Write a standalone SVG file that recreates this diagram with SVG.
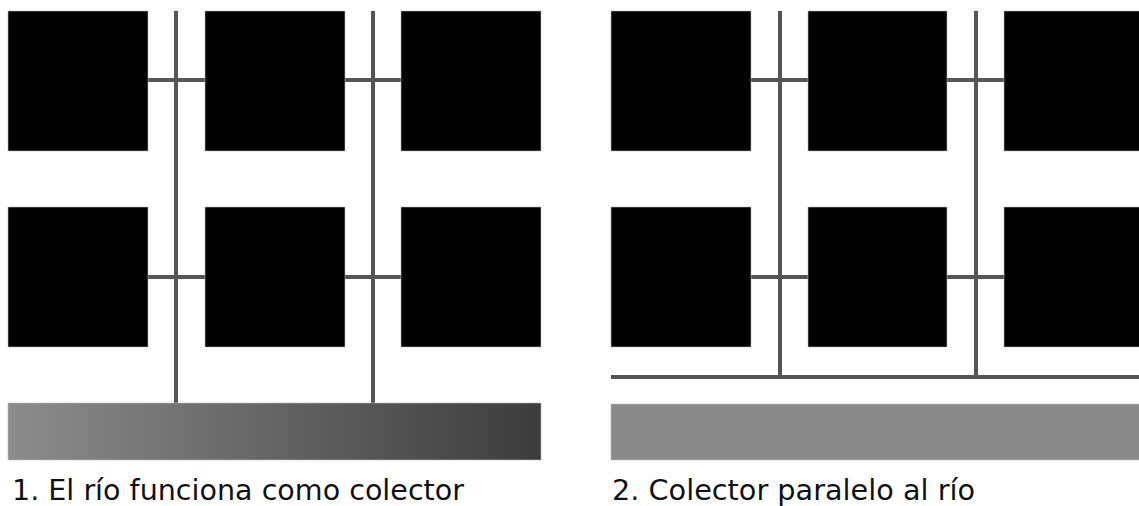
<svg xmlns="http://www.w3.org/2000/svg" width="1139" height="506" viewBox="0 0 1139 506">
<defs>
<linearGradient id="riverGrad" x1="0" y1="0" x2="1" y2="0">
<stop offset="0" stop-color="#8c8c8c"/>
<stop offset="1" stop-color="#3c3c3c"/>
</linearGradient>
<style>
.blk{fill:#000;stroke:#bbb;stroke-width:0.6}
.pipe{stroke:#555;stroke-width:4;fill:none}
.lbl{font-family:"DejaVu Sans","Liberation Sans",sans-serif;font-size:28px;fill:#111}
</style>
</defs>
<rect width="1139" height="506" fill="#fff"/>
<g id="connectors">
<line class="pipe" x1="176" y1="11" x2="176" y2="404"/>
<line class="pipe" x1="373" y1="11" x2="373" y2="404"/>
<line class="pipe" x1="148" y1="80" x2="205" y2="80"/>
<line class="pipe" x1="345" y1="80" x2="401" y2="80"/>
<line class="pipe" x1="148" y1="277" x2="205" y2="277"/>
<line class="pipe" x1="345" y1="277" x2="401" y2="277"/>
<line class="pipe" x1="780" y1="11" x2="780" y2="377"/>
<line class="pipe" x1="976" y1="11" x2="976" y2="377"/>
<line class="pipe" x1="611" y1="377" x2="1139" y2="377"/>
<line class="pipe" x1="751" y1="80" x2="808" y2="80"/>
<line class="pipe" x1="947" y1="80" x2="1004" y2="80"/>
<line class="pipe" x1="751" y1="277" x2="808" y2="277"/>
<line class="pipe" x1="947" y1="277" x2="1004" y2="277"/>
</g>
<g id="l-b1"><rect class="blk" x="8" y="11" width="140" height="140"/></g>
<g id="l-b2"><rect class="blk" x="205" y="11" width="140" height="140"/></g>
<g id="l-b3"><rect class="blk" x="401" y="11" width="140" height="140"/></g>
<g id="l-b4"><rect class="blk" x="8" y="207" width="140" height="140"/></g>
<g id="l-b5"><rect class="blk" x="205" y="207" width="140" height="140"/></g>
<g id="l-b6"><rect class="blk" x="401" y="207" width="140" height="140"/></g>
<g id="l-river"><rect x="8" y="403" width="533" height="57" fill="url(#riverGrad)" stroke="#bbb" stroke-width="0.6"/></g>
<g id="r-b1"><rect class="blk" x="611" y="11" width="140" height="140"/></g>
<g id="r-b2"><rect class="blk" x="808" y="11" width="139" height="140"/></g>
<g id="r-b3"><rect class="blk" x="1004" y="11" width="140" height="140"/></g>
<g id="r-b4"><rect class="blk" x="611" y="207" width="140" height="140"/></g>
<g id="r-b5"><rect class="blk" x="808" y="207" width="139" height="140"/></g>
<g id="r-b6"><rect class="blk" x="1004" y="207" width="140" height="140"/></g>
<g id="r-river"><rect x="611" y="404" width="533" height="56" fill="#8a8a8a" stroke="#bbb" stroke-width="0.6"/></g>
<g id="labels">
<text class="lbl" x="12" y="500" textLength="452" lengthAdjust="spacingAndGlyphs">1. El río funciona como colector</text>
<text class="lbl" x="612" y="500" textLength="363" lengthAdjust="spacingAndGlyphs">2. Colector paralelo al río</text>
</g>
</svg>
